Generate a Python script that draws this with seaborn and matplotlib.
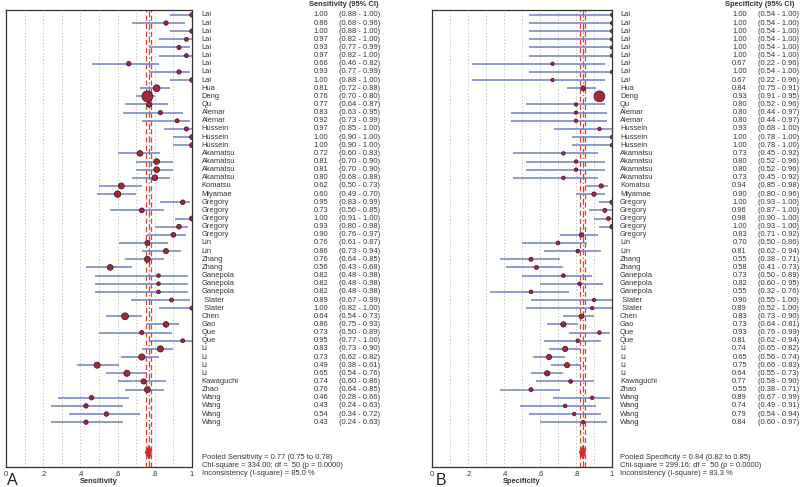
import numpy as np
import pandas as pd
import seaborn as sns
import matplotlib.pyplot as plt

# study labels, top to bottom
studies = ["Lai"] * 9 + ["Hua", "Deng", "Qu", "Alemar", "Alemar", "Hussein", "Hussein", "Hussein",
           "Akamatsu", "Akamatsu", "Akamatsu", "Akamatsu", "Komatsu", "Miyamae",
           "Gregory", "Gregory", "Gregory", "Gregory", "Gregory", "Lin", "Lin", "Zhang", "Zhang",
           "Ganepola", "Ganepola", "Ganepola", " Slater", " Slater", "Chen", "Gao", "Que", "Que",
           "Li", "Li", "Li", "Li", "Kawaguchi", "Zhao", "Wang", "Wang", "Wang", "Wang"]

sens = [1.00, 0.86, 1.00, 0.97, 0.93, 0.97, 0.66, 0.93, 1.00, 0.81, 0.76, 0.77, 0.83, 0.92,
        0.97, 1.00, 1.00, 0.72, 0.81, 0.81, 0.80, 0.62, 0.60, 0.95, 0.73, 1.00, 0.93, 0.90,
        0.76, 0.86, 0.76, 0.56, 0.82, 0.82, 0.82, 0.89, 1.00, 0.64, 0.86, 0.73, 0.95,
        0.83, 0.73, 0.49, 0.65, 0.74, 0.76, 0.46, 0.43, 0.54, 0.43]
sens_lo = [0.88, 0.68, 0.88, 0.82, 0.77, 0.82, 0.46, 0.77, 0.88, 0.72, 0.70, 0.64, 0.63, 0.73,
           0.85, 0.90, 0.90, 0.60, 0.70, 0.70, 0.68, 0.50, 0.49, 0.83, 0.56, 0.91, 0.80, 0.76,
           0.61, 0.73, 0.64, 0.43, 0.48, 0.48, 0.48, 0.67, 0.82, 0.54, 0.75, 0.50, 0.77,
           0.73, 0.62, 0.38, 0.54, 0.60, 0.64, 0.28, 0.24, 0.34, 0.24]
sens_hi = [1.00, 0.96, 1.00, 1.00, 0.99, 1.00, 0.82, 0.99, 1.00, 0.88, 0.80, 0.87, 0.95, 0.99,
           1.00, 1.00, 1.00, 0.83, 0.90, 0.90, 0.88, 0.73, 0.70, 0.99, 0.85, 1.00, 0.98, 0.97,
           0.87, 0.94, 0.85, 0.68, 0.98, 0.98, 0.98, 0.99, 1.00, 0.73, 0.93, 0.89, 1.00,
           0.90, 0.82, 0.61, 0.76, 0.86, 0.85, 0.66, 0.63, 0.72, 0.63]

spec = [1.00, 1.00, 1.00, 1.00, 1.00, 1.00, 0.67, 1.00, 0.67, 0.84, 0.93, 0.80, 0.80, 0.80,
        0.93, 1.00, 1.00, 0.73, 0.80, 0.80, 0.73, 0.94, 0.90, 1.00, 0.96, 0.98, 1.00, 0.83,
        0.70, 0.81, 0.55, 0.58, 0.73, 0.82, 0.55, 0.90, 0.89, 0.83, 0.73, 0.93, 0.81,
        0.74, 0.65, 0.75, 0.64, 0.77, 0.55, 0.89, 0.74, 0.79, 0.84]
spec_lo = [0.54, 0.54, 0.54, 0.54, 0.54, 0.54, 0.22, 0.54, 0.22, 0.75, 0.91, 0.52, 0.44, 0.44,
           0.68, 0.78, 0.78, 0.45, 0.52, 0.52, 0.45, 0.85, 0.80, 0.93, 0.87, 0.90, 0.93, 0.71,
           0.50, 0.62, 0.38, 0.41, 0.50, 0.60, 0.32, 0.55, 0.52, 0.73, 0.64, 0.76, 0.62,
           0.65, 0.56, 0.66, 0.55, 0.58, 0.38, 0.67, 0.49, 0.54, 0.60]
spec_hi = [1.00, 1.00, 1.00, 1.00, 1.00, 1.00, 0.96, 1.00, 0.96, 0.91, 0.95, 0.96, 0.97, 0.97,
           1.00, 1.00, 1.00, 0.92, 0.96, 0.96, 0.92, 0.98, 0.96, 1.00, 1.00, 1.00, 1.00, 0.92,
           0.86, 0.94, 0.71, 0.73, 0.89, 0.95, 0.76, 1.00, 1.00, 0.90, 0.81, 0.99, 0.94,
           0.82, 0.74, 0.83, 0.73, 0.90, 0.71, 0.99, 0.91, 0.94, 0.97]

pooled_sens = (0.77, 0.75, 0.78)
pooled_spec = (0.84, 0.82, 0.85)
sens_stats = ["Pooled Sensitivity = 0.77 (0.75 to 0.78)",
              "Chi-square = 334.00; df =  50 (p = 0.0000)",
              "Inconsistency (I-square) = 85.0 %"]
spec_stats = ["Pooled Specificity = 0.84 (0.82 to 0.85)",
              "Chi-square = 299.16; df =  50 (p = 0.0000)",
              "Inconsistency (I-square) = 83.3 %"]

sns.set_style("white")
plt.rcParams['font.family'] = ['Liberation Sans', 'DejaVu Sans']

LINE_BLUE = "#6d80c6"
DOT_FILL = "#9c2c3a"
DOT_EDGE = "#561320"
RED = "#e0402a"
TXT = "#333333"
FS = 5.4


def approx_n(p, lo, hi):
    # rough study size from the interval, used for marker area
    p, lo, hi = np.array(p), np.array(lo), np.array(hi)
    wald = p * (1 - p) * (3.92 / np.maximum(hi - lo, 0.01)) ** 2
    exact = np.log(0.025) / np.log(np.clip(lo, 0.01, 0.999))
    return np.where(p >= 0.995, exact, np.maximum(wald, 4))


def draw_panel(ax, est, lo, hi, pooled, header, stats, xlabel, name_x, val_x, ci_x, head_x):
    rows = np.arange(1, len(est) + 1)
    df = pd.DataFrame({"row": rows, "est": est, "lo": lo, "hi": hi,
                       "n": approx_n(est, lo, hi)})

    for x in np.arange(0.1, 1.0, 0.1):
        ax.axvline(x, color="#b8b8b8", lw=0.6, ls=(0, (1.5, 2.5)), zorder=0)

    ax.hlines(df["row"], df["lo"], df["hi"], color=LINE_BLUE, lw=1.1, zorder=2)

    # pooled estimate lines
    ax.axvline(pooled[0], color=RED, lw=0.9, ls=(0, (5, 2, 1, 2)), zorder=1)
    ax.axvline(pooled[1], color=RED, lw=0.9, ls=(0, (4, 2.5)), zorder=1)
    ax.axvline(pooled[2], color=RED, lw=0.9, ls=(0, (4, 2.5)), zorder=1)

    sns.scatterplot(data=df, x="est", y="row", size="n", sizes=(5, 60),
                    size_norm=(0, df["n"].max()), color=DOT_FILL, edgecolor=DOT_EDGE,
                    linewidth=0.6, legend=False, ax=ax, zorder=3)

    py = len(est) + 3.7
    ax.fill([pooled[1], pooled[0], pooled[2], pooled[0]],
            [py, py - 0.8, py, py + 0.8], color="#d8282a", zorder=3)

    ax.set_xlim(0, 1)
    ax.set_ylim(len(est) + 5.5, 0.4)
    ax.set_yticks([])
    ax.set_ylabel("")
    ax.set_xticks([0, 0.2, 0.4, 0.6, 0.8, 1.0])
    ax.set_xticklabels(["0", ".2", ".4", ".6", ".8", "1"], fontsize=FS, color=TXT)
    ax.tick_params(axis="x", length=0, pad=3)
    ax.set_xlabel(xlabel, fontsize=FS, fontweight="bold", color=TXT, labelpad=0)
    for s in ax.spines.values():
        s.set_color("#333333")
        s.set_linewidth(0.9)

    tr = ax.get_yaxis_transform()
    ax.text(head_x, -0.25, header, transform=tr, fontsize=FS, fontweight="bold",
            color=TXT, va="center", ha="left")
    for r, name, e, l, h in zip(rows, studies, est, lo, hi):
        ax.text(name_x, r, name, transform=tr, fontsize=FS, color=TXT, va="center", ha="left")
        ax.text(val_x, r, f"{e:.2f}", transform=tr, fontsize=FS, color=TXT, va="center", ha="right")
        ax.text(ci_x, r, f"({l:.2f} - {h:.2f})", transform=tr, fontsize=FS, color=TXT,
                va="center", ha="left")
    for i, line in enumerate(stats):
        ax.text(name_x, len(est) + 4.3 + i, line, transform=tr, fontsize=FS, color=TXT,
                va="center", ha="left")


fig = plt.figure(figsize=(8, 4.87), dpi=100)
W, H = 800, 487
ax1 = fig.add_axes([6 / W, 20 / H, 186 / W, 457 / H])
ax2 = fig.add_axes([432 / W, 20 / H, 180 / W, 457 / H])

draw_panel(ax1, sens, sens_lo, sens_hi, pooled_sens, "Sensitivity (95% CI)", sens_stats,
           "Sensitivity", name_x=1.053, val_x=1.733, ci_x=1.79, head_x=1.63)
draw_panel(ax2, spec, spec_lo, spec_hi, pooled_spec, "Specificity (95% CI)", spec_stats,
           "Specificity", name_x=1.044, val_x=1.75, ci_x=1.81, head_x=1.628)

fig.text(7 / W, 2 / H, "A", fontsize=11.5, color="#222222", ha="left", va="baseline")
fig.text(436 / W, 2 / H, "B", fontsize=11.5, color="#222222", ha="left", va="baseline")

fig.savefig("out.png", dpi=100)
